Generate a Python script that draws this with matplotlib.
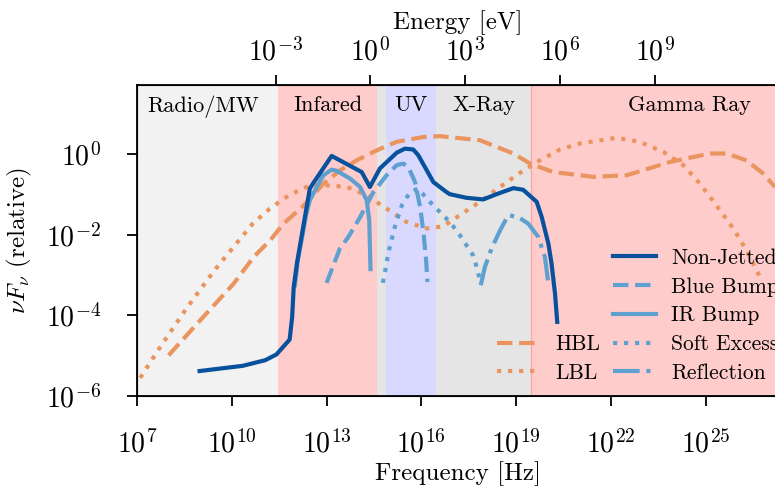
import numpy as np
import matplotlib
matplotlib.use('Agg')
import matplotlib.pyplot as plt
from matplotlib.lines import Line2D

plt.rcParams['font.family'] = 'serif'
plt.rcParams['font.serif'] = ['cmr10']
plt.rcParams['mathtext.fontset'] = 'cm'
plt.rcParams['axes.formatter.use_mathtext'] = True
plt.rcParams['axes.unicode_minus'] = True

# log10(frequency [Hz]) and log10(nu F_nu)
nj_lognu = [8.98, 10.35, 11.06, 11.41, 11.83, 11.91, 11.96, 12.06, 12.47, 12.60, 13.16, 14.11, 14.37,
            14.69, 15.22, 15.48, 15.74, 15.90, 16.38, 16.80, 16.90, 17.43, 17.96, 18.38, 18.91, 19.22,
            19.65, 19.81, 20.02, 20.12, 20.23, 20.30]
nj_logf = [-5.38, -5.25, -5.11, -4.97, -4.60, -4.04, -3.29, -2.71, -0.85, -0.69, -0.04, -0.44, -0.81,
           -0.35, 0.04, 0.14, 0.12, -0.02, -0.69, -0.94, -0.99, -1.08, -1.12, -0.99, -0.84, -0.88,
           -1.18, -1.56, -2.22, -2.71, -3.46, -4.16]

bb_lognu = [13.00, 13.42, 13.69, 14.06, 14.48, 14.90, 15.22, 15.43, 15.59, 15.80, 15.96, 16.06, 16.15, 16.19]
bb_logf = [-3.19, -2.34, -2.05, -1.56, -0.94, -0.52, -0.27, -0.23, -0.32, -0.69, -1.31, -1.89, -2.63, -3.17]

ir_lognu = [12.00, 12.09, 12.21, 12.35, 12.47, 12.69, 12.90, 13.16, 13.32, 13.74, 14.06, 14.27, 14.35, 14.39]
ir_logf = [-3.25, -2.63, -2.13, -1.51, -1.14, -0.81, -0.52, -0.38, -0.41, -0.60, -0.81, -1.14, -1.64, -2.85]

se_lognu = [14.78, 14.85, 14.95, 15.16, 15.38, 15.64, 15.90, 16.22, 16.48, 16.75, 17.01, 17.22, 17.43,
            17.64, 17.75, 17.88]
se_logf = [-3.19, -2.92, -2.46, -1.80, -1.27, -0.94, -0.85, -1.14, -1.35, -1.56, -1.79, -2.01, -2.26,
           -2.51, -2.80, -3.21]

rf_lognu = [17.88, 18.01, 18.22, 18.49, 18.75, 19.07, 19.38, 19.70, 19.91, 20.02]
rf_logf = [-3.25, -2.80, -2.34, -1.89, -1.51, -1.56, -1.72, -2.05, -2.55, -3.21]

hbl_lognu = [8.00, 9.00, 10.06, 10.69, 11.22, 11.64, 12.28, 12.90, 13.42, 13.95, 14.59, 15.22, 16.06,
             16.59, 17.85, 18.91, 19.44, 20.17, 21.44, 22.50, 23.87, 25.13, 25.66, 26.29, 26.82, 27.19]
hbl_logf = [-4.99, -4.12, -3.21, -2.55, -2.13, -1.72, -1.27, -0.73, -0.40, -0.15, 0.10, 0.31, 0.43,
            0.45, 0.35, 0.02, -0.23, -0.44, -0.56, -0.52, -0.19, 0.02, 0.02, -0.15, -0.48, -0.81]

lbl_lognu = [7.10, 7.72, 8.56, 9.45, 10.16, 10.64, 11.20, 11.80, 12.47, 13.00, 13.64, 14.27, 14.90,
             15.53, 16.17, 16.69, 17.22, 17.85, 18.49, 19.12, 19.75, 20.39, 21.02, 22.18, 22.91, 23.66,
             24.29, 24.82, 25.34, 25.87, 26.29, 26.72]
lbl_logf = [-5.55, -4.80, -3.83, -2.88, -2.20, -1.74, -1.35, -1.02, -0.77, -0.77, -0.81, -1.02, -1.35,
            -1.68, -1.84, -1.79, -1.51, -1.18, -0.81, -0.46, -0.15, 0.12, 0.27, 0.41, 0.31, 0.06,
            -0.27, -0.73, -1.27, -1.84, -2.38, -3.05]

# spectral bands [Hz]
band_names = ['Radio/MW', 'Infared', '', 'UV', 'X-Ray', 'Gamma Ray']
band_lo = [5e6, 3e11, 4e14, 7.5e14, 3e16, 3e19]
band_hi = [3e11, 4e14, 7.5e14, 3e16, 3e19, 3e29]
band_col = ['gray', 'red', 'gray', 'blue', 'gray', 'red']
band_alpha = [0.1, 0.2, 0.2, 0.15, 0.2, 0.2]

h_eV = 4.135667e-15
dark = '#08519c'
light = '#5ea0d0'
orange = '#ea955f'

fig = plt.figure(figsize=(7.75, 4.9), dpi=100)
ax = fig.add_axes([0.1768, 0.1918, 0.8284, 0.6347])

for lo, hi, c, a, name in zip(band_lo, band_hi, band_col, band_alpha, band_names):
    ax.axvspan(lo, hi, facecolor=c, alpha=a, lw=0, zorder=0)
    if name:
        ax.text(np.sqrt(lo * hi), 0.965, name, transform=ax.get_xaxis_transform(),
                ha='center', va='top', fontsize=16)
ax.axvline(band_lo[-1], color='red', alpha=0.2, lw=1, zorder=0)  # gamma band edge

lw = 3
ax.plot(10**np.array(hbl_lognu), 10**np.array(hbl_logf), color=orange, ls='--', lw=lw, label='HBL')
ax.plot(10**np.array(lbl_lognu), 10**np.array(lbl_logf), color=orange, ls=':', lw=lw, label='LBL')
ax.plot(10**np.array(bb_lognu), 10**np.array(bb_logf), color=light, ls='--', lw=lw, label='Blue Bump')
ax.plot(10**np.array(ir_lognu), 10**np.array(ir_logf), color=light, ls='-', lw=lw, label='IR Bump')
ax.plot(10**np.array(se_lognu), 10**np.array(se_logf), color=light, ls=':', lw=lw, label='Soft Excess')
ax.plot(10**np.array(rf_lognu), 10**np.array(rf_logf), color=light, ls='-.', lw=lw, label='Reflection')
ax.plot(10**np.array(nj_lognu), 10**np.array(nj_logf), color=dark, ls='-', lw=lw, label='Non-Jetted')

ax.set_xscale('log')
ax.set_yscale('log')
ax.set_xlim(1e7, 10**27.32)
ax.set_ylim(1e-6, 10**1.72)
ax.set_xticks([1e7, 1e10, 1e13, 1e16, 1e19, 1e22, 1e25])
ax.set_yticks([1e-6, 1e-4, 1e-2, 1e0])
ax.xaxis.set_minor_locator(plt.NullLocator())
ax.yaxis.set_minor_locator(plt.NullLocator())
ax.tick_params(axis='x', labelsize=20, length=7, width=1.3, pad=17)
ax.tick_params(axis='y', labelsize=20, length=7, width=1.3, pad=19)
for s in ax.spines.values():
    s.set_linewidth(1.3)
ax.set_xlabel('Frequency [Hz]', fontsize=18)
ax.xaxis.set_label_coords(0.5, -0.209)
ax.set_ylabel(r'$\nu F_\nu$ (relative)', fontsize=18)
ax.yaxis.set_label_coords(-0.160, 0.5)

ax2 = ax.twiny()
ax2.set_xscale('log')
ax2.set_xlim(np.array(ax.get_xlim()) * h_eV)
ax2.set_xticks([1e-3, 1e0, 1e3, 1e6, 1e9])
ax2.xaxis.set_minor_locator(plt.NullLocator())
ax2.tick_params(axis='x', labelsize=20, length=7, width=1.3, pad=6)
ax2.set_xlabel('Energy [eV]', fontsize=18)
ax2.xaxis.set_label_coords(0.5, 1.18)

blank = Line2D([], [], color='none')
hd, lb = ax.get_legend_handles_labels()
order = {l: hh for hh, l in zip(hd, lb)}
handles = [blank, blank, blank, order['HBL'], order['LBL'], order['Non-Jetted'], order['Blue Bump'],
           order['IR Bump'], order['Soft Excess'], order['Reflection']]
labels = [' ', ' ', ' ', 'HBL', 'LBL', 'Non-Jetted', 'Blue Bump', 'IR Bump', 'Soft Excess', 'Reflection']
ax.legend(handles, labels, ncol=2, frameon=False, fontsize=15.5, loc='lower left',
          bbox_to_anchor=(497 / 775, 107 / 490), bbox_transform=fig.transFigure,
          borderpad=0, borderaxespad=0, handlelength=2.0, handletextpad=0.7,
          columnspacing=0.6, labelspacing=0.43)

fig.savefig('out.png', dpi=100)
